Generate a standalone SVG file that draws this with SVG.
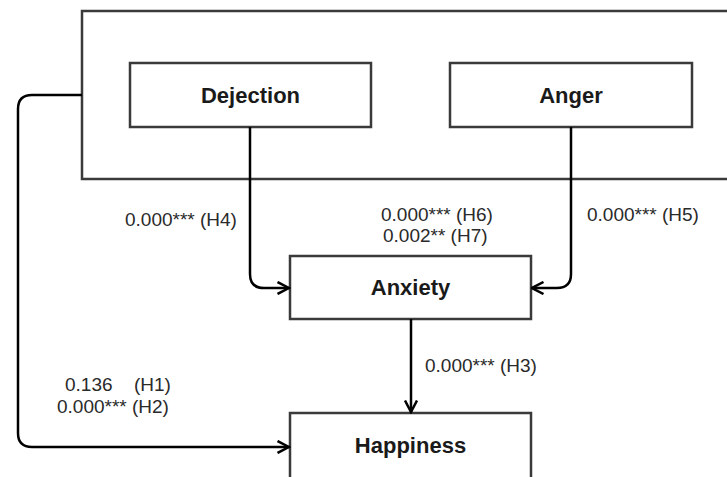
<svg xmlns="http://www.w3.org/2000/svg" width="727" height="477" viewBox="0 0 727 477">
<style>
.box{fill:#fff;stroke:#3a3a3a;stroke-width:2.5}
.node{font-family:"Liberation Sans",Arial,sans-serif;font-weight:bold;font-size:22px;fill:#1a1a1a;text-anchor:middle}
.lbl{font-family:"Liberation Sans",Arial,sans-serif;font-size:19px;fill:#2a2a2a}
.conn{fill:none;stroke:#000;stroke-width:2.5}
</style>
<defs>
<marker id="arr" viewBox="0 0 14 14" refX="12.5" refY="7" markerWidth="14" markerHeight="14" markerUnits="userSpaceOnUse" orient="auto">
<path d="M1,1 L12.5,7 L1,13" fill="none" stroke="#000" stroke-width="2.5"/>
</marker>
</defs>
<rect width="727" height="477" fill="#fff"/>
<g id="group-box"><rect class="box" x="82" y="11" width="700" height="168"/></g>
<g id="node-dejection"><rect class="box" x="130" y="63" width="241" height="64"/><text class="node" x="250.5" y="103">Dejection</text></g>
<g id="node-anger"><rect class="box" x="450" y="63" width="242" height="64"/><text class="node" x="571" y="103">Anger</text></g>
<g id="node-anxiety"><rect class="box" x="290" y="256" width="241" height="63"/><text class="node" x="410.5" y="295">Anxiety</text></g>
<g id="node-happiness"><rect class="box" x="290" y="413" width="241" height="80"/><text class="node" x="410.5" y="453">Happiness</text></g>
<g id="connectors">
<path class="conn" d="M250,127 V274 Q250,288 264,288 H289" marker-end="url(#arr)"/>
<path class="conn" d="M571,127 V274 Q571,288 557,288 H532" marker-end="url(#arr)"/>
<path class="conn" d="M411,319 V412" marker-end="url(#arr)"/>
<path class="conn" d="M82,95 H32 Q18,95 18,109 V433 Q18,447 32,447 H289" marker-end="url(#arr)"/>
</g>
<g id="labels">
<text class="lbl" x="125" y="226">0.000*** (H4)</text>
<text class="lbl" x="381" y="221">0.000*** (H6)</text>
<text class="lbl" x="383" y="242">0.002** (H7)</text>
<text class="lbl" x="587" y="221">0.000*** (H5)</text>
<text class="lbl" x="425" y="372">0.000*** (H3)</text>
<text class="lbl" x="65" y="391">0.136</text>
<text class="lbl" x="134" y="391">(H1)</text>
<text class="lbl" x="57" y="413">0.000*** (H2)</text>
</g>
</svg>
